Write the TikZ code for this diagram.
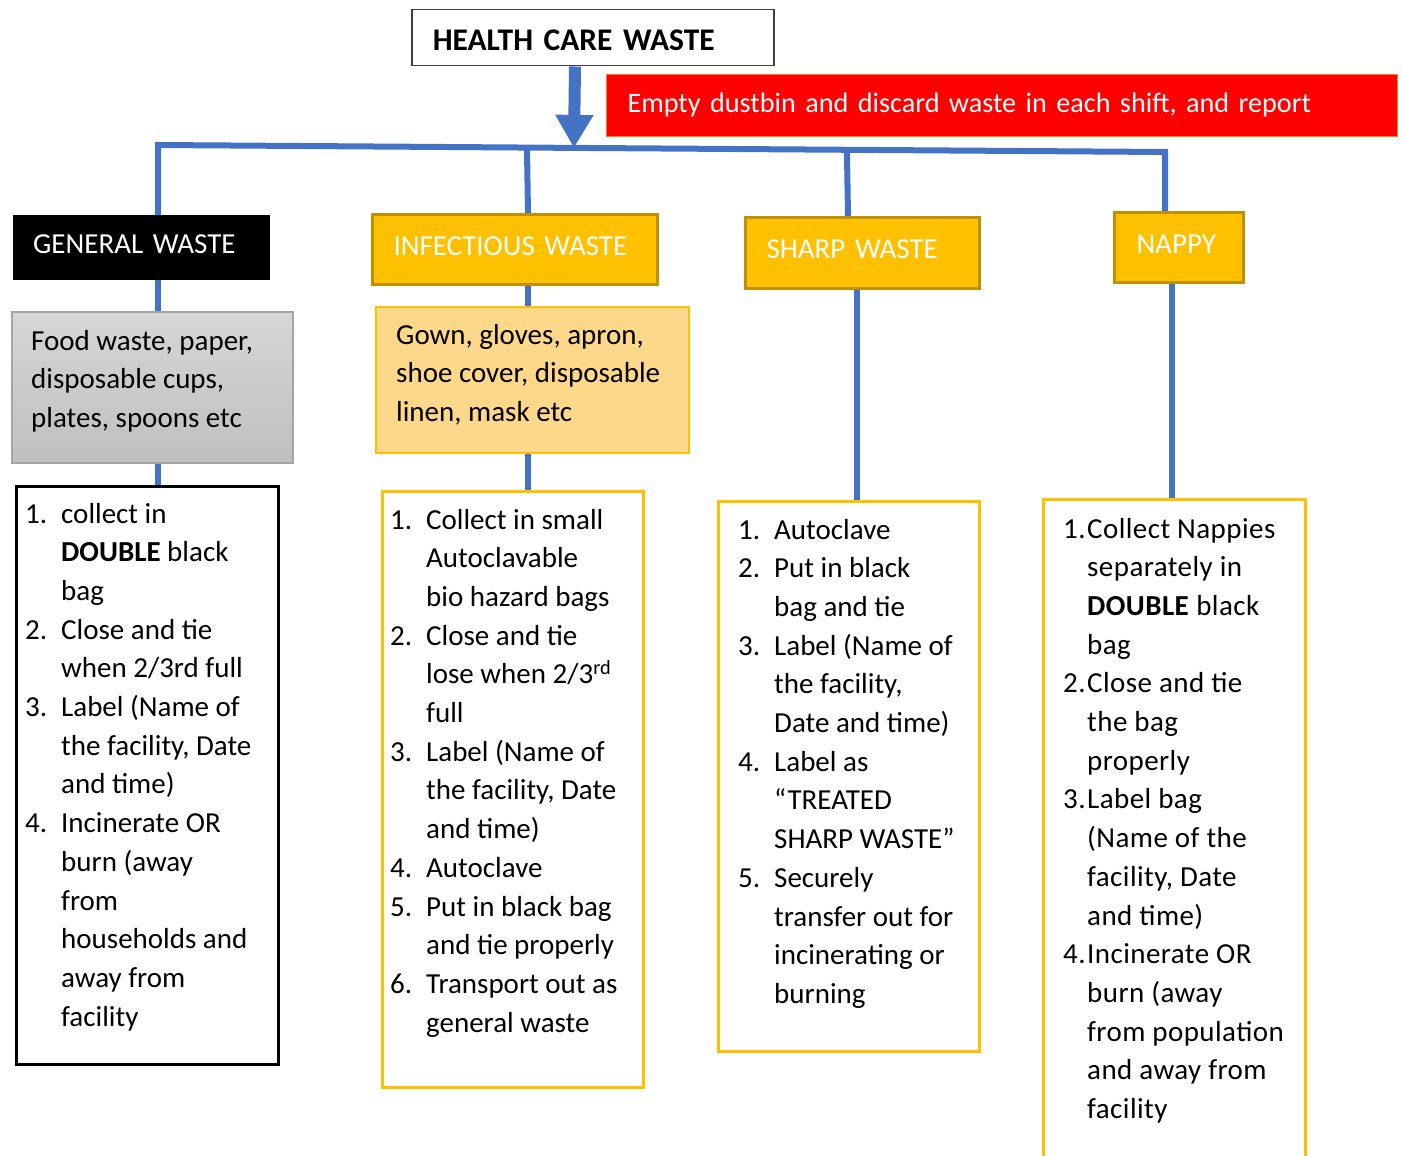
\documentclass[tikz,border=0pt]{standalone}
\usepackage{fontspec}
\setmainfont{Carlito}
\newfontfamily\nappyfont[LetterSpace=1.5]{Carlito}
\usetikzlibrary{calc}
\usetikzlibrary{arrows.meta}
\usepackage{xcolor}
\definecolor{linkblue}{HTML}{4472C4}
\definecolor{gold}{HTML}{FFC000}
\definecolor{golddark}{HTML}{BF9000}
\definecolor{peach}{HTML}{FDD88A}
\definecolor{redbox}{HTML}{FF0000}
\definecolor{rededge}{HTML}{ED7D31}
\definecolor{greyedge}{HTML}{A5A5A5}
\newcommand{\bodysize}{\fontsize{29}{38.7}\selectfont}
\tikzset{
  link/.style={linkblue, line width=6pt},
  headbox/.style={anchor=north west, align=left, inner xsep=21pt, text height=19pt, text depth=8pt, font=\bodysize, text=white},
  goldbox/.style={headbox, draw=golddark, fill=gold, line width=3pt},
  listbox/.style={anchor=north west, inner sep=0pt, draw=gold, line width=2.5pt},
  listtext/.style={anchor=base west, inner sep=0pt, font=\bodysize},
}
\begin{document}
\begin{tikzpicture}[x=1pt,y=-1pt]
\useasboundingbox (0,0) rectangle (1403,1156);
\coordinate (barL) at (158,145);
\coordinate (barR) at (1165,152);
\coordinate (arrx) at (575,0);
\coordinate (genx) at (158,0);
\coordinate (infx) at (528,0);
\coordinate (shpx) at (848,0);
\coordinate (shpxl) at (857,0);
\coordinate (napx) at (1165,0);
\coordinate (napxl) at (1172,0);

\node[headbox, draw=black!75, line width=1.5pt, text=black, text width=320pt, minimum height=56pt, text height=26.5pt, text depth=0pt, font=\fontsize{31.5}{38}\selectfont\bfseries] (hcw) at (411,9) {HEALTH CARE WASTE};
\node[headbox, draw=rededge, line width=1pt, fill=redbox, text width=749pt, minimum height=62pt, text depth=5pt, font=\fontsize{28.2}{38}\selectfont] (note) at (606,74) {Empty dustbin and discard waste in each shift, and report};

\node[headbox, fill=black, text width=217pt, minimum height=65pt, inner xsep=20pt] (gen) at (13,215) {GENERAL WASTE};
\node[goldbox, text width=243pt, minimum height=70pt] (inf) at (371,213) {INFECTIOUS WASTE};
\node[goldbox, text width=192pt, minimum height=71pt] (shp) at (744,216) {SHARP WASTE};
\node[goldbox, text width=85pt, minimum height=70pt, inner xsep=22pt] (nap) at (1113,211) {NAPPY};

\node[anchor=north west, inner sep=0pt, draw=greyedge, line width=1.5pt, top color=black!16, bottom color=black!25, minimum width=281pt, minimum height=151pt] (genfood) at (11,311) {};
\node[listtext] (genfoodtxt) at (31,350) {\begin{tabular}[t]{@{}l@{}}Food waste, paper,\\ disposable cups,\\ plates, spoons etc\end{tabular}};
\node[listbox, fill=peach, line width=2pt, minimum width=313pt, minimum height=146pt] (infitems) at (375,306) {};
\node[listtext] (infitemstxt) at (396,344) {\begin{tabular}[t]{@{}l@{}}Gown, gloves, apron,\\ shoe cover, disposable\\ linen, mask etc\end{tabular}};

\node[listbox, draw=black, minimum width=262pt, minimum height=578pt] (genlist) at (15,485) {};
\node[listtext] (genlisttxt) at (25,523) {\begin{tabular}[t]{@{}p{36pt}@{}l@{}}
1. & collect in\\ & \textbf{DOUBLE} black\\ & bag\\
2. & Close and tie\\ & when 2/3rd full\\
3. & Label (Name of\\ & the facility, Date\\ & and time)\\
4. & Incinerate OR\\ & burn (away\\ & from\\ & households and\\ & away from\\ & facility
\end{tabular}};

\node[listbox, minimum width=261pt, minimum height=596pt] (inflist) at (381,490) {};
\node[listtext] (inflisttxt) at (390,529) {\begin{tabular}[t]{@{}p{36pt}@{}l@{}}
1. & Collect in small\\ & Autoclavable\\ & bio hazard bags\\
2. & Close and tie\\ & lose when 2/3\textsuperscript{rd}\\ & full\\
3. & Label (Name of\\ & the facility, Date\\ & and time)\\
4. & Autoclave\\
5. & Put in black bag\\ & and tie properly\\
6. & Transport out as\\ & general waste
\end{tabular}};

\node[listbox, minimum width=261pt, minimum height=550pt] (shplist) at (717,500) {};
\node[listtext] (shplisttxt) at (738,539) {\begin{tabular}[t]{@{}p{36pt}@{}l@{}}
1. & Autoclave\\
2. & Put in black\\ & bag and tie\\
3. & Label (Name of\\ & the facility,\\ & Date and time)\\
4. & Label as\\ & “TREATED\\ & SHARP WASTE”\\
5. & Securely\\ & transfer out for\\ & incinerating or\\ & burning
\end{tabular}};

\node[listbox, minimum width=262pt, minimum height=690pt] (naplist) at (1042,498) {};
\node[listtext, font=\bodysize\nappyfont] (naplisttxt) at (1063,538) {\begin{tabular}[t]{@{}p{24pt}@{}l@{}}
1. & Collect Nappies\\ & separately in\\ & \textbf{DOUBLE} black\\ & bag\\
2. & Close and tie\\ & the bag\\ & properly\\
3. & Label bag\\ & (Name of the\\ & facility, Date\\ & and time)\\
4. & Incinerate OR\\ & burn (away\\ & from population\\ & and away from\\ & facility
\end{tabular}};

\draw[link] (gen.north -| genx) -- (barL) -- (barR) -- (nap.north -| napx);
\draw[link] (inf.north -| infx) -- ($(barL)!(infx)!(barR)$);
\draw[link] (shp.north -| shpx) -- ($(barL)!(shpx)!(barR)$);
\draw[link, line width=12pt, -{Triangle[width=36pt,length=33pt]}] (hcw.south -| arrx) -- ($(barL)!(arrx)!(barR)$);

\draw[link] (gen.south -| genx) -- (genfood.north -| genx);
\draw[link] (genfood.south -| genx) -- (genlist.north -| genx);
\draw[link] (inf.south -| infx) -- (infitems.north -| infx);
\draw[link] (infitems.south -| infx) -- (inflist.north -| infx);
\draw[link] (shp.south -| shpxl) -- (shplist.north -| shpxl);
\draw[link] (nap.south -| napxl) -- (naplist.north -| napxl);
\end{tikzpicture}
\end{document}
